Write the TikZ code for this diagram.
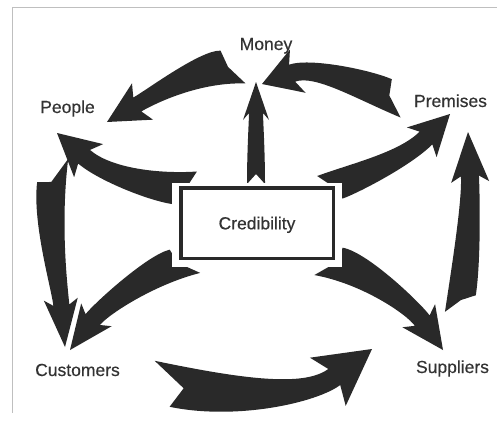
\documentclass[tikz,border=0pt]{standalone}
\usepackage{fontspec}
\setmainfont{Liberation Sans}
\newfontfamily\labelfont{Liberation Sans}[FakeBold=0.4]
\usetikzlibrary{calc}

% Parameters of a broad curved arrow with swept-back barbs and a notched tail
\pgfkeys{
  /fa/.is family, /fa,
  tw/.store in=\faTW,   % half width at the tail
  nw/.store in=\faNW,   % half width at the neck
  hw/.store in=\faHW,   % half width across the barbs
  hl/.store in=\faHL,   % distance tip -> barbs
  nb/.store in=\faNB,   % distance tip -> neck
  nd/.store in=\faND,   % depth of the tail notch
  sl/.store in=\faSL,   % shift of the left tail point along the axis
  sr/.store in=\faSR,   % shift of the right tail point along the axis
  reset/.style={tw=13pt,nw=7pt,hw=18pt,hl=38pt,nb=32pt,nd=8pt,sl=0pt,sr=0pt},
}

% \fatarrow[options]{tail}{control 1}{control 2}{tip}
\newcommand{\fatarrow}[5][]{%
  \pgfkeys{/fa,reset,#1}%
  \path (#2) coordinate (fa-a) (#3) coordinate (fa-c1)
        (#4) coordinate (fa-c2) (#5) coordinate (fa-b);
  \path ($(fa-a)!\faSL!(fa-c1)$) coordinate (fa-al)
        ($(fa-a)!\faSR!(fa-c1)$) coordinate (fa-ar)
        ($(fa-al)!\faTW!90:(fa-c1)$) coordinate (fa-tl)
        ($(fa-ar)!\faTW!-90:(fa-c1)$) coordinate (fa-tr)
        ($(fa-a)!\faTW!90:(fa-c1)$) coordinate (fa-pl)
        ($(fa-a)!\faTW!-90:(fa-c1)$) coordinate (fa-pr)
        ($(fa-a)!\faND!(fa-c1)$) coordinate (fa-tn)
        ($(fa-b)!\faNB!(fa-c2)$) coordinate (fa-n)
        ($(fa-n)!\faNW!90:(fa-b)$) coordinate (fa-nl)
        ($(fa-n)!\faNW!-90:(fa-b)$) coordinate (fa-nr)
        ($(fa-b)!\faHL!(fa-c2)$) coordinate (fa-h)
        ($(fa-h)!\faHW!90:(fa-b)$) coordinate (fa-bl)
        ($(fa-h)!\faHW!-90:(fa-b)$) coordinate (fa-br);
  \path ($(fa-c1)+(fa-pl)-(fa-a)$) coordinate (fa-c1l)
        ($(fa-c1)+(fa-pr)-(fa-a)$) coordinate (fa-c1r)
        ($(fa-c2)+(fa-nl)-(fa-n)$) coordinate (fa-c2l)
        ($(fa-c2)+(fa-nr)-(fa-n)$) coordinate (fa-c2r);
  \fill[arrowfill] (fa-tl) .. controls (fa-c1l) and (fa-c2l) .. (fa-nl)
     -- (fa-bl) -- (fa-b) -- (fa-br) -- (fa-nr)
     .. controls (fa-c2r) and (fa-c1r) .. (fa-tr) -- (fa-tn) -- cycle;
}

\tikzset{
  arrowfill/.style={fill=black!84},
  label/.style={anchor=base, text=black!80, inner sep=0pt,
    font=\labelfont\fontsize{17.5}{20}\selectfont},
  halo/.style={fill=white, draw=none, inner sep=0pt,
    minimum width=170pt, minimum height=84pt},
  centrebox/.style={draw=black!84, line width=3.5pt,
    minimum width=152.5pt, minimum height=70.5pt, inner sep=0pt,
    text depth=0pt, text=black!80, font=\labelfont\fontsize{17.5}{20}\selectfont},
  frameline/.style={draw=black!25, line width=1pt},
}

\begin{document}
\begin{tikzpicture}[x=1pt,y=-1pt]
  \useasboundingbox (0,0) rectangle (502,423);
  \fill[white] (0,0) rectangle (502,423);

  % faint edge of the sheet
  \draw[frameline] (12,7) -- (497,7);
  \draw[frameline] (12,7) -- (12,413);

  % labels
  \node[label] (money)     at (266,50)  {Money};
  \node[label] (people)    at (67.5,113) {People};
  \node[label] (premises)  at (450.5,107) {Premises};
  \node[label] (customers) at (77.5,376) {Customers};
  \node[label] (suppliers) at (452.5,373) {Suppliers};

  % arrow ends
  \coordinate (mp-t) at (232,67);  \coordinate (mp-h) at (107,122);
  \coordinate (pm-t) at (393,97);  \coordinate (pm-h) at (262,84);
  \coordinate (cm-t) at (256,184); \coordinate (cm-h) at (256,82);
  \coordinate (cp-t) at (190,188); \coordinate (cp-h) at (57,133);
  \coordinate (cr-t) at (328,188); \coordinate (cr-h) at (450,114);
  \coordinate (cc-t) at (182,262); \coordinate (cc-h) at (70,350);
  \coordinate (pc-t) at (52,176);  \coordinate (pc-h) at (65,347);
  \coordinate (sp-t) at (460,306); \coordinate (sp-h) at (468,132);
  \coordinate (cs-t) at (332,262); \coordinate (cs-h) at (443,350);
  \coordinate (us-t) at (168,385); \coordinate (us-h) at (372,349);

  % Money -> People
  \fatarrow[tw=16pt,sl=-14pt,sr=12pt,nd=4pt,nw=8pt,hw=21pt,hl=41pt,nb=35pt]
    {mp-t}{200,66}{152,96}{mp-h}
  % Premises -> Money
  \fatarrow[tw=16pt,sl=-15pt,sr=8pt,nd=4pt,nw=9pt,hw=23pt,hl=38pt,nb=32pt]
    {pm-t}{362,84}{312,66}{pm-h}
  % Credibility -> Money
  \fatarrow[tw=9pt,nw=7pt,hw=13pt,hl=38pt,nb=31pt,nd=10pt]
    {cm-t}{256,150}{256,120}{cm-h}
  % Credibility -> People
  \fatarrow[tw=16pt,sl=10pt,sr=-8pt,nd=4pt,nw=9pt,hw=22pt,hl=42pt,nb=36pt]
    {cp-t}{160,190}{105,175}{cp-h}
  % Credibility -> Premises
  \fatarrow[tw=15pt,sl=-6pt,sr=10pt,nd=5pt,nw=9pt,hw=21pt,hl=40pt,nb=34pt]
    {cr-t}{355,178}{405,159}{cr-h}
  % Credibility -> Customers
  \fatarrow[tw=15pt,sl=-15pt,sr=9pt,nd=4pt,nw=9pt,hw=19pt,hl=44pt,nb=38pt]
    {cc-t}{150,270}{100,310}{cc-h}
  % People -> Customers
  \fatarrow[tw=14pt,sl=-19pt,sr=8pt,nd=6pt,nw=8pt,hw=17pt,hl=48pt,nb=42pt]
    {pc-t}{46,225}{60,290}{pc-h}
  % Suppliers -> Premises
  \fatarrow[tw=14pt,sl=-8pt,sr=13pt,nd=6pt,nw=9pt,hw=19pt,hl=50pt,nb=44pt]
    {sp-t}{467,260}{471,200}{sp-h}
  % Credibility -> Suppliers
  \fatarrow[tw=16pt,sl=8pt,sr=-15pt,nd=4pt,nw=9pt,hw=20pt,hl=42pt,nb=36pt]
    {cs-t}{365,268}{414,309}{cs-h}
  % Customers -> Suppliers
  \fatarrow[tw=21pt,sl=-18pt,sr=6pt,nd=16pt,nw=10pt,hw=30pt,hl=55pt,nb=47pt]
    {us-t}{240,400}{310,395}{us-h}

  % central box with its white margin
  \node[halo] (credhalo) at (257,225) {};
  \node[centrebox] (cred) at (257,223) {Credibility};
\end{tikzpicture}
\end{document}
